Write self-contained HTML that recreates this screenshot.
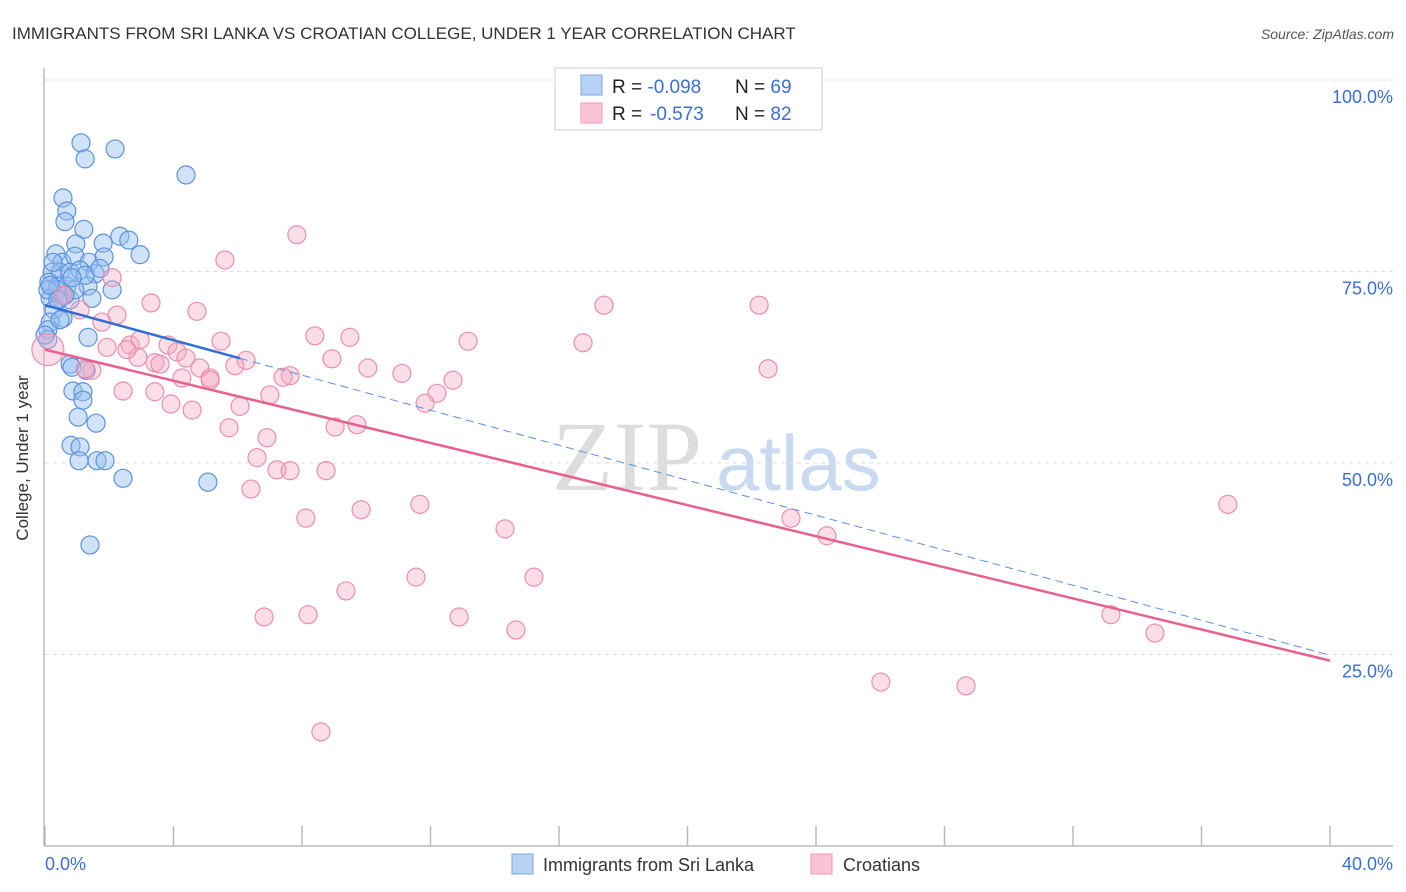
<!DOCTYPE html>
<html><head><meta charset="utf-8">
<style>
body{margin:0;background:#fff;font-family:"Liberation Sans",sans-serif;}
svg{display:block}
</style></head>
<body>
<svg id="chart" width="1406" height="892" xmlns="http://www.w3.org/2000/svg">
<text x="12" y="39" font-size="17" fill="#333">IMMIGRANTS FROM SRI LANKA VS CROATIAN COLLEGE, UNDER 1 YEAR CORRELATION CHART</text>
<text x="1394" y="39" font-size="14" fill="#555" font-style="italic" text-anchor="end">Source: ZipAtlas.com</text>
<g>
<text x="552" y="490" font-size="100" fill="#ddd" font-family="Liberation Serif">ZIP</text>
<text x="716" y="490" font-size="78" fill="#c9daf0">atlas</text>
</g>
<g id="grid"></g>
<g id="axes"></g>
<g id="points"></g>
<g id="trends"></g>
<text x="28" y="458" font-size="17" fill="#333" text-anchor="middle" transform="rotate(-90 28 458)">College, Under 1 year</text>
<text x="45" y="870" font-size="18" fill="#3b6fd4">0.0%</text>
<text x="1393" y="870" font-size="18" fill="#3b6fd4" text-anchor="end">40.0%</text>
<g>
<rect x="555" y="68" width="267" height="62" fill="#fff" stroke="#ccc"/>
<rect x="581" y="75" width="21" height="20" fill="#b7d2f5" stroke="#7aa6e6"/>
<rect x="581" y="103" width="21" height="20" fill="#fac4d4" stroke="#ee9ab5"/>
<text x="612" y="93" font-size="19" fill="#222">R = <tspan fill="#3b6fd4">-0.098</tspan><tspan x="735">N = </tspan><tspan fill="#3b6fd4">69</tspan></text>
<text x="612" y="120" font-size="19" fill="#222">R = <tspan fill="#3b6fd4" x="650">-0.573</tspan><tspan x="735">N = </tspan><tspan fill="#3b6fd4">82</tspan></text>
</g>
<g>
<rect x="512" y="854" width="21" height="20" fill="#b7d2f5" stroke="#7aa6e6"/>
<text x="543" y="871" font-size="18" fill="#333">Immigrants from Sri Lanka</text>
<rect x="811" y="854" width="21" height="20" fill="#fac4d4" stroke="#ee9ab5"/>
<text x="843" y="871" font-size="18" fill="#333">Croatians</text>
</g>
</svg>
<script>
const blueX=[1.12,1.25,2.18,4.39,0.56,0.68,0.62,1.21,0.96,1.81,2.33,2.61,2.96,0.34,0.53,0.93,1.37,1.84,0.22,0.47,0.78,1.09,1.56,0.12,0.40,0.68,1.34,2.09,0.16,0.47,0.78,1.46,0.28,0.56,0.16,1.34,0.09,0.09,0.78,0.84,1.28,0.87,1.18,1.18,1.03,1.59,0.81,1.09,1.06,1.62,1.87,2.43,5.07,1.40,0.25,0.37,0.93,0.09,0.16,0.62,1.25,1.71,0.84,0.40,0.0,0.47];
const blueY=[91.8,89.7,91.0,87.6,84.6,82.9,81.5,80.5,78.6,78.7,79.6,79.1,77.2,77.3,76.2,77.0,76.2,76.9,74.9,74.9,74.9,75.2,74.7,73.6,73.1,73.1,73.1,72.6,71.5,71.5,71.3,71.5,70.0,68.9,68.4,66.4,67.4,66.1,62.9,62.5,62.1,59.4,59.3,58.2,56.0,55.2,52.3,52.1,50.3,50.3,50.3,48.0,47.5,39.3,76.2,72.6,72.6,72.6,73.2,71.9,74.5,75.4,74.2,71.3,66.7,68.7];
const pinkX=[0.09,7.84,5.60,2.09,3.30,4.73,17.40,22.23,0.56,1.09,1.77,2.24,2.65,1.93,3.42,2.89,3.83,4.11,4.39,5.48,6.26,5.91,4.82,4.26,5.14,8.40,9.49,8.93,10.05,11.11,13.17,16.75,22.51,7.63,7.41,12.70,12.20,11.83,1.46,2.43,3.42,3.92,4.58,6.07,7.00,5.73,6.91,9.03,9.71,6.60,7.22,7.63,8.75,6.41,8.12,9.84,11.67,14.32,23.22,24.34,36.82,11.55,15.22,9.37,6.82,8.19,12.89,14.66,33.18,34.55,26.02,28.67,8.59,1.25,2.96,3.58,5.14,2.55];
const pinkY=[64.8,79.8,76.5,74.2,70.9,69.8,70.6,70.6,71.9,70.0,68.4,69.3,65.4,65.1,63.1,63.8,65.4,64.5,63.7,65.9,63.4,62.7,62.4,61.1,61.1,66.6,66.4,63.6,62.4,61.7,65.9,65.7,62.3,61.4,61.2,60.8,59.1,57.8,62.1,59.4,59.3,57.7,56.9,57.4,58.9,54.6,53.3,54.7,55.0,50.7,49.1,49.0,49.0,46.6,42.8,43.9,44.6,41.4,42.8,40.5,44.6,35.1,35.1,33.3,29.9,30.2,29.9,28.2,30.2,27.8,21.4,20.9,14.9,62.3,66.1,62.9,60.8,64.8];
const blueTrend=[70.6,24.9];   // value at x=0 and x=40
const blueSolidEnd=6.07;
const pinkTrend=[64.8,24.2];
const yTicks=[25,50,75,100];
const yTickLabels=["25.0%","50.0%","75.0%","100.0%"];
const xTicks=[0,4,8,12,16,20,24,28,32,36,40];

const NS="http://www.w3.org/2000/svg";
const sx=v=>45+v*(1285/40);
const sy=v=>846-v*7.66;
function mk(tag,attrs,parent){const e=document.createElementNS(NS,tag);for(const k in attrs)e.setAttribute(k,attrs[k]);parent.appendChild(e);return e;}
const grid=document.getElementById('grid'),axes=document.getElementById('axes'),pts=document.getElementById('points'),tr=document.getElementById('trends');
yTicks.forEach((t,i)=>{
 const l=mk('line',{x1:45,x2:1393,y1:sy(t),y2:sy(t),stroke:'#ddd','stroke-dasharray':'4,4'},grid);
 
 
 const tx=mk('text',{x:1393,y:sy(t)+23,'font-size':18,fill:'#3b6fd4','text-anchor':'end'},grid);
 tx.textContent=yTickLabels[i];
 
 
});
let a=mk('line',{x1:44,x2:44,y1:68,y2:846,stroke:'#bbb','stroke-width':1.5},axes);


a=mk('line',{x1:44,x2:1393,y1:846,y2:846,stroke:'#bbb','stroke-width':1.5},axes);


xTicks.forEach(t=>{
 const l=mk('line',{x1:sx(t),x2:sx(t),y1:826,y2:846,stroke:'#bbb','stroke-width':1.5},axes);
 
 
});
blueX.forEach((x,i)=>{
 const c=mk('circle',{cx:sx(x),cy:sy(blueY[i]),r:9,fill:'rgba(150,190,240,0.45)',stroke:'#5b93e0','stroke-width':1.2},pts);
 
 
});
pinkX.forEach((x,i)=>{
 const c=mk('circle',{cx:sx(x),cy:sy(pinkY[i]),r:i===0?16:9,fill:'rgba(245,170,195,0.4)',stroke:'#ea8fae','stroke-width':1.2},pts);
 
 
});
const by=x=>blueTrend[0]+(blueTrend[1]-blueTrend[0])*x/40;
let t=mk('line',{x1:sx(0),y1:sy(by(0)),x2:sx(blueSolidEnd),y2:sy(by(blueSolidEnd)),stroke:'#2f6fd6','stroke-width':2.5},tr);


t=mk('line',{x1:sx(blueSolidEnd),y1:sy(by(blueSolidEnd)),x2:sx(40),y2:sy(by(40)),stroke:'#5b8fe0','stroke-width':1,'stroke-dasharray':'8,5'},tr);


t=mk('line',{x1:sx(0),y1:sy(pinkTrend[0]),x2:sx(40),y2:sy(pinkTrend[1]),stroke:'#e8608e','stroke-width':2.5},tr);


</script>
</body></html>
